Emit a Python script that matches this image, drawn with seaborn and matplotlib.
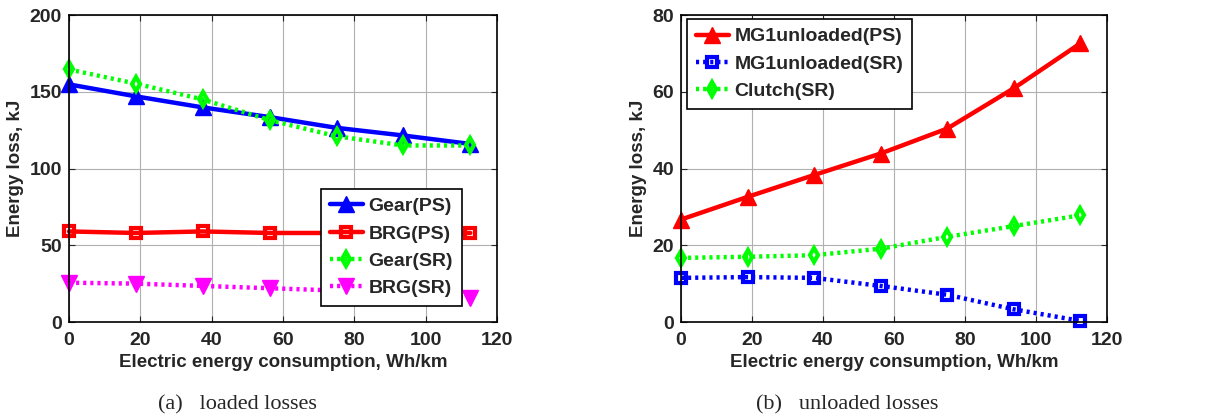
import numpy as np
import pandas as pd
import matplotlib
matplotlib.use("Agg")
import matplotlib.pyplot as plt
import seaborn as sns

# data
consumption = [0, 18.75, 37.5, 56.25, 75, 93.75, 112.5]

gear_ps = [154.8, 147, 139.8, 133.5, 126.5, 121.5, 116]
brg_ps = [59, 58, 59, 58, 58, 58, 58]
gear_sr = [164.5, 155.3, 145, 131.5, 121, 115, 115]
brg_sr = [25.6, 25, 23.5, 22, 20.5, 19.3, 15.6]

mg1_ps = [26.7, 32.6, 38.3, 43.9, 50.4, 60.9, 72.6]
mg1_sr = [11.5, 11.7, 11.5, 9.4, 7.1, 3.3, 0.3]
clutch_sr = [16.7, 17, 17.4, 19.1, 22.2, 25, 27.8]

sns.set_style("ticks")
plt.rcParams['font.family'] = ['Liberation Sans', 'DejaVu Sans']
plt.rcParams['font.weight'] = 'bold'

fig = plt.figure(figsize=(12.23, 4.19), dpi=100)
ax1 = fig.add_axes([0.0564, 0.2315, 0.35, 0.7327])
ax2 = fig.add_axes([0.5568, 0.2315, 0.3483, 0.7327])

dot = (0, (0.7, 0.9))
FS = 13.5

def draw(ax, y, color, marker, ls, label):
    tri = marker in ('^', 'v')
    sns.lineplot(x=consumption, y=y, ax=ax, color=color, marker=marker,
                 linestyle=ls, linewidth=3.2, markersize=11 if tri else 7,
                 markeredgecolor=color, markerfacecolor=color if tri else 'none',
                 markeredgewidth=1 if tri else 3, clip_on=False,
                 label=label)

draw(ax1, gear_ps, '#0000ff', '^', '-', 'Gear(PS)')
draw(ax1, brg_ps, '#ff0000', 's', '-', 'BRG(PS)')
draw(ax1, gear_sr, '#00ff00', 'd', dot, 'Gear(SR)')
draw(ax1, brg_sr, '#ff00ff', 'v', dot, 'BRG(SR)')

draw(ax2, mg1_ps, '#ff0000', '^', '-', 'MG1unloaded(PS)')
draw(ax2, mg1_sr, '#0000ff', 's', dot, 'MG1unloaded(SR)')
draw(ax2, clutch_sr, '#00ff00', 'd', dot, 'Clutch(SR)')

for ax, ymax, yt in [(ax1, 200, [0, 50, 100, 150, 200]), (ax2, 80, [0, 20, 40, 60, 80])]:
    ax.set_xlim(0, 120)
    ax.set_ylim(0, ymax)
    ax.set_xticks([0, 20, 40, 60, 80, 100, 120])
    ax.set_yticks(yt)
    ax.grid(True, color='#b0b0b0', linewidth=0.8)
    ax.set_axisbelow(True)
    ax.tick_params(direction='in', top=True, right=True, length=4, labelsize=FS + 0.5)
    ax.tick_params(axis='x', pad=7)
    ax.tick_params(axis='y', pad=5)
    for s in ax.spines.values():
        s.set_visible(True)
        s.set_linewidth(1.2)
        s.set_color('black')
    ax.set_xlabel('Electric energy consumption, Wh/km', fontsize=FS, fontweight='bold', labelpad=4)
    ax.set_ylabel('Energy loss, kJ', fontsize=FS, fontweight='bold', labelpad=4)

legkw = dict(fontsize=FS + 0.5, handlelength=1.7, frameon=True, fancybox=False,
             edgecolor='black', framealpha=1, borderpad=0.45, labelspacing=0.5,
             handletextpad=0.3, borderaxespad=0)
ax1.legend(loc='lower left', bbox_to_anchor=(0.589, 0.052), **legkw)
ax2.legend(loc='upper left', bbox_to_anchor=(0.014, 0.987), **legkw)
for leg in (ax1.get_legend(), ax2.get_legend()):
    leg.get_frame().set_linewidth(1.2)

fig.text(0.194, 0.033, '(a)   loaded losses', family='Liberation Serif', fontweight='normal',
         fontsize=16, ha='center', va='center')
fig.text(0.693, 0.033, '(b)   unloaded losses', family='Liberation Serif', fontweight='normal',
         fontsize=16, ha='center', va='center')

fig.savefig('out.png', dpi=100, facecolor='white')
